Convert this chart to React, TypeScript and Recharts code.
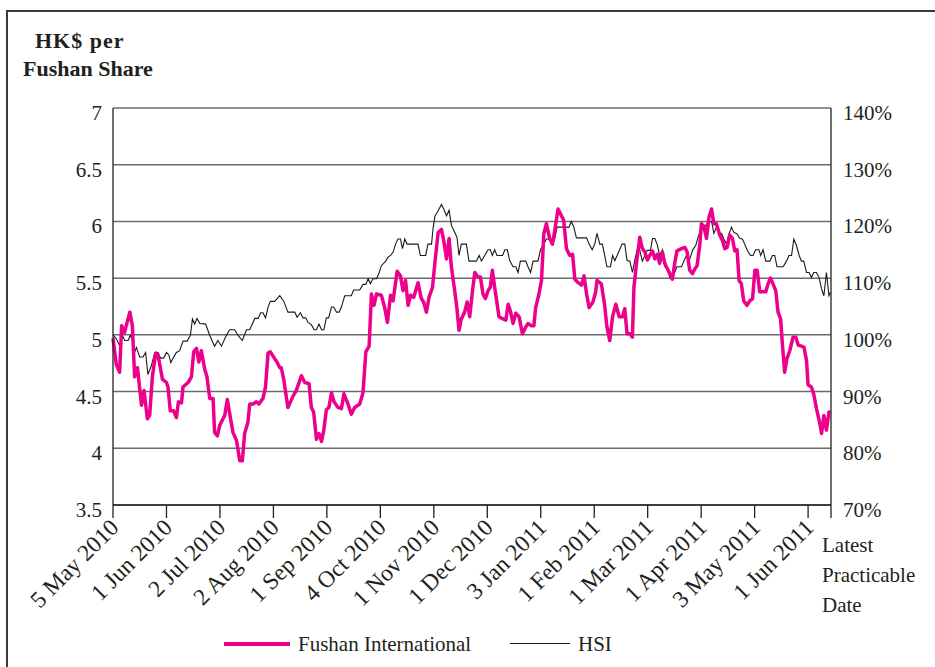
import React from 'react';
import { LineChart, Line, XAxis, YAxis, CartesianGrid } from 'recharts';

const FONT = '"Liberation Serif", "Times New Roman", Times, serif';
const TEXT = '#231f20';
const PINK = '#EC008C';

// x axis: trading-day index, ticks roughly every 21 trading days
const tickDays = [0, 21, 42, 63, 84, 105, 126, 147, 168, 189, 210, 231, 252, 273, 282];
const tickLabels = [
  '5 May 2010', '1 Jun 2010', '2 Jul 2010', '2 Aug 2010', '1 Sep 2010', '4 Oct 2010',
  '1 Nov 2010', '1 Dec 2010', '3 Jan 2011', '1 Feb 2011', '1 Mar 2011', '1 Apr 2011',
  '3 May 2011', '1 Jun 2011', 'Latest Practicable Date',
];
const priceTicks = [3.5, 4, 4.5, 5, 5.5, 6, 6.5, 7];
const hsiTicks = [70, 80, 90, 100, 110, 120, 130, 140];

// Fushan International share price (HK$)
const fushanDays = [
  0, 1.3, 2.6, 3.4, 4.5, 6.6, 7.6, 8.5, 9.6, 11.2,
  12.2, 13.5, 14.4, 15.5, 16.8, 17.7, 19.4, 21.0, 21.6, 22.5,
  23.8, 24.9, 25.7, 26.9, 27.5, 29.5, 30.8, 31.7, 32.8, 33.7,
  34.7, 36.0, 36.9, 38.0, 39.3, 39.9, 41.0, 41.9, 43.2, 43.9,
  44.9, 46.1, 47.1, 48.5, 49.8, 50.8, 51.7, 53.0, 53.7, 55.0,
  56.3, 57.3, 58.9, 59.9, 60.9, 61.8, 63.5, 64.4, 65.5, 66.1,
  67.1, 68.7, 70.7, 72.0, 74.0, 75.3, 77.0, 77.9, 78.8, 79.9,
  80.9, 81.9, 82.8, 83.8, 84.8, 85.8, 86.8, 88.4, 89.7, 90.7,
  92.3, 93.6, 94.9, 96.9, 98.2, 99.3, 100.6, 101.5, 102.5, 103.5,
  105.4, 106.7, 107.8, 109.0, 110.0, 111.6, 112.9, 113.9, 114.9, 115.9,
  116.9, 118.1, 119.8, 121.1, 122.0, 123.1, 124.1, 125.5, 126.4, 127.7,
  129.0, 129.9, 131.0, 132.0, 132.9, 134.2, 135.1, 135.9, 136.8, 138.1,
  139.1, 140.1, 141.2, 142.1, 143.4, 144.3, 145.3, 146.3, 147.3, 148.2,
  149.0, 149.9, 151.6, 153.2, 154.3, 155.2, 156.1, 157.1, 158.2, 159.5,
  160.8, 162.1, 163.0, 164.3, 165.3, 166.0, 167.3, 168.3, 169.2, 170.2,
  171.5, 172.6, 173.5, 174.8, 175.7, 177.0, 178.1, 179.4, 180.5, 181.4,
  182.7, 184.0, 185.0, 186.0, 187.0, 188.5, 189.6, 190.1, 191.8, 193.1,
  194.0, 195.1, 196.2, 197.5, 198.8, 200.1, 201.0, 201.9, 203.0, 204.0,
  204.6, 205.6, 206.9, 207.9, 208.9, 209.9, 210.8, 211.9, 212.8, 213.8,
  214.7, 215.8, 216.7, 217.6, 218.7, 219.7, 220.6, 221.5, 223.3, 224.6,
  225.5, 226.5, 227.6, 228.5, 229.4, 230.5, 231.1, 232.0, 233.1, 234.1,
  235.1, 236.0, 237.0, 238.3, 239.4, 240.3, 241.2, 242.2, 243.3, 244.2,
  245.1, 245.9, 246.8, 247.7, 249.0, 250.1, 251.2, 252.1, 253.0, 254.0,
  255.3, 256.4, 257.3, 258.2, 259.2, 260.3, 261.2, 262.2, 262.9, 263.8,
  264.7, 265.8, 267.1, 268.2, 269.1, 270.4, 271.4, 272.4, 273.0, 274.3,
  275.2, 276.3, 277.6, 278.3, 279.2, 280.2, 281.2, 281.8,
];
const fushanPrices = [
  4.97, 4.74, 4.67, 5.08, 5.02, 5.20, 5.08, 4.63, 4.71, 4.38,
  4.51, 4.26, 4.29, 4.64, 4.84, 4.82, 4.61, 4.58, 4.54, 4.33,
  4.33, 4.27, 4.41, 4.40, 4.54, 4.58, 4.63, 4.85, 4.88, 4.76,
  4.86, 4.70, 4.63, 4.44, 4.44, 4.14, 4.11, 4.20, 4.26, 4.29,
  4.43, 4.27, 4.14, 4.07, 3.89, 3.89, 4.13, 4.23, 4.39, 4.39,
  4.41, 4.39, 4.44, 4.54, 4.84, 4.85, 4.79, 4.76, 4.71, 4.71,
  4.60, 4.36, 4.46, 4.51, 4.64, 4.58, 4.57, 4.36, 4.32, 4.08,
  4.13, 4.06, 4.16, 4.34, 4.36, 4.49, 4.41, 4.36, 4.35, 4.48,
  4.39, 4.30, 4.36, 4.39, 4.49, 4.85, 4.90, 5.36, 5.26, 5.36,
  5.35, 5.24, 5.11, 5.35, 5.30, 5.56, 5.52, 5.39, 5.48, 5.26,
  5.35, 5.33, 5.46, 5.32, 5.29, 5.20, 5.33, 5.42, 5.63, 5.90,
  5.93, 5.83, 5.67, 5.85, 5.60, 5.39, 5.23, 5.04, 5.14, 5.20,
  5.29, 5.16, 5.39, 5.55, 5.51, 5.51, 5.36, 5.32, 5.39, 5.42,
  5.57, 5.42, 5.16, 5.14, 5.13, 5.27, 5.21, 5.10, 5.19, 5.16,
  5.01, 5.07, 5.10, 5.08, 5.08, 5.24, 5.36, 5.48, 5.89, 5.98,
  5.85, 5.80, 5.92, 6.11, 6.07, 6.01, 5.76, 5.70, 5.71, 5.49,
  5.46, 5.44, 5.52, 5.36, 5.24, 5.29, 5.38, 5.48, 5.45, 5.26,
  5.07, 4.95, 5.16, 5.27, 5.16, 5.16, 5.23, 5.01, 5.01, 4.98,
  5.42, 5.63, 5.86, 5.76, 5.73, 5.66, 5.70, 5.74, 5.67, 5.71,
  5.63, 5.73, 5.63, 5.59, 5.54, 5.49, 5.63, 5.74, 5.76, 5.77,
  5.73, 5.57, 5.54, 5.58, 5.61, 5.80, 5.98, 5.96, 5.85, 6.04,
  6.11, 5.98, 5.98, 5.88, 5.83, 5.76, 5.77, 5.88, 5.85, 5.74,
  5.75, 5.48, 5.45, 5.30, 5.26, 5.30, 5.32, 5.57, 5.57, 5.38,
  5.38, 5.38, 5.45, 5.50, 5.45, 5.39, 5.20, 5.14, 4.92, 4.67,
  4.79, 4.86, 4.98, 4.98, 4.91, 4.90, 4.89, 4.77, 4.56, 4.54,
  4.48, 4.35, 4.22, 4.13, 4.29, 4.16, 4.32, 4.32,
];

// HSI, rebased (5 May 2010 = 100%)
const hsiDays = [
  0, 1.3, 2.6, 3.7, 4.6, 5.9, 6.8, 7.6, 8.5, 9.2,
  10.5, 11.8, 12.8, 13.7, 15.1, 16.4, 17.7, 18.7, 19.9, 21.0,
  21.9, 22.7, 23.6, 24.9, 26.2, 27.5, 29.1, 30.4, 31.2, 32.1,
  33.0, 34.1, 36.4, 38.0, 39.9, 41.2, 42.6, 44.5, 45.8, 47.8,
  49.1, 50.8, 52.4, 53.7, 55.7, 57.0, 58.0, 58.9, 59.9, 60.9,
  61.8, 63.5, 65.5, 67.1, 68.7, 71.4, 72.3, 73.6, 74.6, 75.7,
  76.6, 77.9, 79.0, 79.9, 80.9, 81.9, 82.8, 83.8, 84.7, 85.8,
  86.7, 87.8, 88.8, 89.7, 91.0, 93.6, 94.5, 96.9, 98.2, 99.3,
  100.2, 101.1, 102.1, 103.5, 104.5, 105.4, 107.1, 108.0, 109.0, 110.0,
  111.0, 111.9, 112.9, 113.7, 114.6, 115.5, 119.8, 120.7, 122.8, 123.7,
  125.1, 125.7, 126.4, 127.7, 129.0, 129.9, 131.0, 132.0, 132.9, 134.2,
  135.1, 135.9, 136.8, 138.8, 139.8, 142.7, 143.8, 144.7, 146.0, 147.3,
  148.2, 149.0, 149.9, 150.8, 153.0, 153.9, 154.9, 155.8, 157.1, 158.2,
  159.1, 160.0, 162.1, 163.0, 164.0, 165.0, 166.9, 167.9, 169.2, 170.2,
  171.5, 172.6, 173.5, 174.4, 179.1, 180.0, 181.0, 182.0, 186.0, 187.0,
  188.2, 189.2, 190.1, 191.2, 192.2, 193.1, 194.0, 195.4, 196.2, 197.1,
  198.0, 199.0, 199.9, 201.0, 201.9, 203.0, 204.0, 204.9, 205.8, 206.9,
  207.9, 208.9, 209.8, 211.1, 211.9, 212.8, 213.7, 214.7, 215.8, 216.7,
  217.6, 218.7, 219.7, 220.6, 221.5, 223.3, 224.2, 225.2, 226.3, 227.6,
  228.9, 229.8, 231.1, 232.4, 233.7, 235.1, 236.0, 237.0, 238.0, 239.0,
  239.9, 241.0, 242.0, 242.9, 243.8, 245.1, 246.2, 247.2, 248.1, 249.0,
  250.4, 251.4, 252.4, 253.7, 254.4, 255.3, 256.4, 258.0, 259.0, 259.9,
  260.8, 263.2, 264.5, 265.5, 266.5, 267.4, 268.4, 269.5, 270.4, 271.3,
  272.4, 273.4, 274.3, 275.2, 276.3, 277.3, 278.3, 279.2, 280.2, 281.2,
  281.8,
];
const hsiPercents = [
  100, 99.3, 98.1, 99.9, 99.0, 99.0, 99.9, 99.1, 96.9, 97.8,
  96.1, 96.1, 96.9, 93.0, 94.6, 96.9, 96.9, 95.9, 95.9, 96.9,
  96.5, 95.1, 95.9, 96.9, 97.2, 98.9, 98.9, 99.9, 102.8, 101.9,
  102.9, 102.0, 101.9, 99.9, 98.0, 99.0, 98.0, 99.9, 100.9, 100.9,
  99.9, 99.0, 100.9, 100.9, 102.9, 102.9, 103.9, 103.9, 103.0, 104.9,
  105.9, 105.9, 106.9, 105.9, 104.0, 104.0, 103.1, 103.9, 103.0, 103.0,
  102.2, 101.8, 100.9, 100.9, 101.9, 100.9, 100.9, 103.0, 103.0, 104.9,
  104.9, 104.0, 104.0, 104.9, 106.9, 106.9, 107.9, 107.9, 108.9, 108.9,
  109.9, 109.0, 109.9, 109.9, 110.9, 112.2, 113.0, 113.7, 114.0, 114.6,
  116.0, 116.9, 116.9, 115.2, 116.9, 116.0, 116.0, 114.0, 114.0, 116.0,
  116.0, 118.7, 120.9, 121.9, 123.0, 122.2, 121.0, 122.0, 119.3, 118.1,
  117.2, 114.0, 116.0, 116.0, 113.0, 113.0, 114.0, 113.0, 114.0, 115.0,
  115.0, 114.0, 115.0, 114.0, 114.0, 115.0, 115.0, 113.1, 112.0, 112.0,
  111.0, 113.0, 113.0, 112.0, 111.0, 113.0, 113.0, 115.0, 116.0, 116.9,
  116.9, 116.0, 116.9, 119.0, 119.0, 120.0, 119.0, 117.1, 117.1, 116.0,
  115.0, 116.0, 117.9, 116.0, 116.0, 114.0, 112.0, 112.0, 114.0, 113.1,
  114.0, 115.0, 116.0, 116.0, 113.1, 113.0, 111.0, 113.1, 114.9, 114.9,
  113.0, 114.0, 114.9, 114.9, 117.0, 117.0, 116.0, 114.0, 115.0, 112.0,
  112.0, 110.1, 110.1, 111.0, 112.0, 112.0, 113.0, 114.0, 113.0, 114.9,
  115.8, 117.2, 119.0, 119.0, 119.9, 120.0, 117.9, 119.0, 117.9, 117.9,
  116.9, 116.0, 117.9, 119.0, 118.1, 117.8, 117.0, 116.9, 116.0, 115.0,
  114.0, 114.0, 115.0, 115.0, 114.0, 115.0, 113.0, 113.0, 114.0, 114.0,
  112.0, 112.0, 113.0, 114.0, 114.0, 116.9, 115.8, 114.0, 113.0, 113.0,
  111.0, 111.0, 110.1, 111.0, 111.0, 110.1, 108.1, 106.9, 111.0, 106.9,
  107.5,
];

const fushanData = fushanDays.map((d, i) => ({ day: d, price: fushanPrices[i] }));
const hsiData = hsiDays.map((d, i) => ({ day: d, hsi: hsiPercents[i] }));

const serif: React.CSSProperties = { fontFamily: FONT };

const XTick = (props: any) => {
  const { x, y, payload } = props;
  const i = tickDays.indexOf(payload.value);
  const label = tickLabels[i] ?? '';
  if (i === tickDays.length - 1) {
    const words = label.split(' ');
    return (
      <text x={x - 9} y={y} style={serif} fontFamily={FONT} fontSize={21} fill={TEXT}>
        {words.map((w, k) => (
          <tspan key={k} x={x - 9} y={y + 32 + k * 30}>{w}</tspan>
        ))}
      </text>
    );
  }
  const ax = x + 7;
  const ay = y + 9;
  return (
    <text x={ax} y={ay} textAnchor="end" transform={`rotate(-45 ${ax} ${ay})`}
      style={serif} fontFamily={FONT} fontSize={23.5} fill={TEXT}>
      {label}
    </text>
  );
};

const LeftTick = (props: any) => {
  const { x, y, payload } = props;
  return (
    <text x={x} y={y + 5} textAnchor="end" dominantBaseline="central"
      style={serif} fontFamily={FONT} fontSize={21} fill={TEXT}>
      {String(payload.value)}
    </text>
  );
};

const RightTick = (props: any) => {
  const { x, y, payload } = props;
  return (
    <text x={x} y={y + 5} textAnchor="start" dominantBaseline="central"
      style={serif} fontFamily={FONT} fontSize={21} fill={TEXT}>
      {`${payload.value}%`}
    </text>
  );
};

const textStyle: React.CSSProperties = {
  position: 'absolute', fontFamily: FONT, fontSize: 21, color: TEXT,
  lineHeight: '24px', whiteSpace: 'nowrap',
};

export default function App() {
  return (
    <div style={{ position: 'absolute', left: 0, top: 0, width: 935, height: 667, overflow: 'hidden', background: '#fff' }}>
      <div style={{ position: 'absolute', left: 6, top: 10, width: 1200, height: 900, borderTop: '2px solid #3a3a3a', borderLeft: '2px solid #3a3a3a' }} />
      <div style={{ ...textStyle, fontWeight: 'bold', fontSize: 22, letterSpacing: 1, left: 35, top: 29 }}>HK$ per</div>
      <div style={{ ...textStyle, fontWeight: 'bold', fontSize: 22, left: 23, top: 57 }}>Fushan Share</div>
      <div style={{ position: 'absolute', left: 0, top: 0 }}>
        <LineChart width={935} height={667} margin={{ top: 108, right: 0, bottom: 62, left: 0 }}>
          <CartesianGrid yAxisId="left" vertical={false} stroke="#6b6b6b" strokeWidth={1.5} />
          <XAxis dataKey="day" type="number" domain={[0, 282]} ticks={tickDays} interval={0}
            height={100} tickSize={13} tickMargin={2} tick={<XTick />}
            axisLine={{ stroke: '#222', strokeWidth: 1.5 }} tickLine={{ stroke: '#222', strokeWidth: 1.3 }} />
          <YAxis yAxisId="left" orientation="left" width={113} domain={[3.5, 7]} ticks={priceTicks}
            interval={0} tickSize={0} tickMargin={11} tickLine={false} tick={<LeftTick />}
            axisLine={{ stroke: '#222', strokeWidth: 1.3 }} />
          <YAxis yAxisId="right" orientation="right" width={104} domain={[70, 140]} ticks={hsiTicks}
            interval={0} tickSize={0} tickMargin={12} tickLine={false} tick={<RightTick />}
            axisLine={{ stroke: '#222', strokeWidth: 1.3 }} />
          <Line yAxisId="right" data={hsiData} dataKey="hsi" type="linear" stroke="#1a1a1a"
            strokeWidth={1.1} dot={false} activeDot={false} isAnimationActive={false} />
          <Line yAxisId="left" data={fushanData} dataKey="price" type="linear" stroke={PINK}
            strokeWidth={3.5} dot={false} activeDot={false} isAnimationActive={false}
            strokeLinejoin="round" />
        </LineChart>
      </div>
      <div style={{ position: 'absolute', left: 224, top: 642, width: 66, height: 4, background: PINK }} />
      <div style={{ ...textStyle, left: 298, top: 632 }}>Fushan International</div>
      <div style={{ position: 'absolute', left: 510, top: 643, width: 60, height: 1.2, background: '#1a1a1a' }} />
      <div style={{ ...textStyle, left: 578, top: 632 }}>HSI</div>
    </div>
  );
}
